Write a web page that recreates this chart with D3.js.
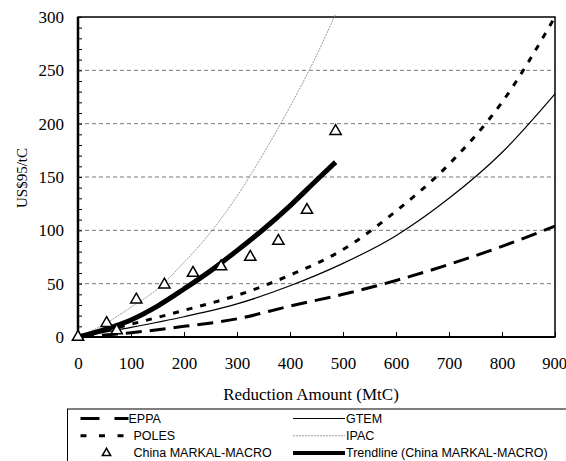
<!DOCTYPE html>
<html>
<head>
<meta charset="utf-8">
<script src="https://cdn.jsdelivr.net/npm/d3@7"></script>
<style>
  body { margin: 0; background: #fff; }
  .tick text { font-family: "Liberation Serif", "Times New Roman", serif; }
</style>
</head>
<body>
<div id="chart"></div>
<script>
// data (x = reduction MtC, y = US$95/tC)
var reductionX = [0, 100, 200, 300, 400, 500, 600, 700, 800, 900];
var eppaY  = [0, 4, 10, 17, 29, 40, 53, 68, 85, 104];
var gtemY  = [0, 9, 19, 31, 48, 69, 95, 130, 173, 228];
var polesY = [0, 12, 25, 39, 58, 82, 118, 162, 220, 300];

var ipacX = [0, 50, 100, 150, 200, 250, 300, 350, 400, 450, 486];
var ipacY = [0, 12, 28, 45, 70, 98, 132, 172, 216, 264, 303];

var trendX = [0, 50, 100, 150, 200, 250, 300, 350, 400, 450, 486];
var trendY = [0, 7, 16, 29, 45, 62, 81, 101, 123, 147, 164];

var markalX = [0, 54, 73, 110, 163, 217, 270, 325, 378, 432, 486];
var markalY = [0, 13, 6, 35, 49, 60, 66, 75, 90, 119, 193];

var xTicks = [0, 100, 200, 300, 400, 500, 600, 700, 800, 900];
var yTicks = [0, 50, 100, 150, 200, 250, 300];

var legendNames = ["EPPA", "GTEM", "POLES", "IPAC", "China MARKAL-MACRO", "Trendline (China MARKAL-MACRO)"];

// set svg area and margins
var svgWidth = 566;
var svgHeight = 461;

var margin = {
  top: 17,
  right: 11,
  bottom: 124,
  left: 78
};

var width = svgWidth - margin.left - margin.right;
var height = svgHeight - margin.top - margin.bottom;

var svg = d3.select("#chart")
  .append("svg")
  .attr("width", svgWidth)
  .attr("height", svgHeight);

var chartGroup = svg.append("g")
  .attr("transform", `translate(${margin.left}, ${margin.top})`);

//scales
var xLinearScale = d3.scaleLinear()
  .domain([0, 900])
  .range([0, width]);

var yLinearScale = d3.scaleLinear()
  .domain([0, 300])
  .range([height, 0]);

//grid lines
chartGroup.selectAll(".grid")
  .data(yTicks.filter(d => d > 0 && d < 300))
  .enter()
  .append("line")
  .attr("x1", 0)
  .attr("x2", width)
  .attr("y1", d => yLinearScale(d))
  .attr("y2", d => yLinearScale(d))
  .attr("stroke", "#777")
  .attr("stroke-width", 1)
  .attr("stroke-dasharray", "4,3");

//axes
var bottomAxis = d3.axisBottom(xLinearScale)
  .tickValues(xTicks)
  .tickSizeInner(-5)
  .tickSizeOuter(0)
  .tickPadding(20);

var leftAxis = d3.axisLeft(yLinearScale)
  .tickValues(d3.range(0, 301, 10))
  .tickSizeInner(-4)
  .tickSizeOuter(0)
  .tickPadding(14)
  .tickFormat(d => yTicks.indexOf(d) >= 0 ? d : "");

var xAxisG = chartGroup.append("g")
  .attr("transform", `translate(0, ${height})`)
  .call(bottomAxis);

var yAxisG = chartGroup.append("g")
  .call(leftAxis);

[xAxisG, yAxisG].forEach(function(g) {
  g.select(".domain").remove();
  g.selectAll(".tick line").attr("stroke", "#000").attr("stroke-width", 1);
  g.selectAll(".tick text")
    .style("font-size", "17px")
    .attr("fill", "#000");
});

// keep the last x label inside the window
xAxisG.selectAll(".tick text")
  .filter(d => d === 900)
  .attr("dx", -1)
  .style("font-size", "16.5px");

//plot frame
chartGroup.append("rect")
  .attr("x", 0)
  .attr("y", 0)
  .attr("width", width)
  .attr("height", height)
  .attr("fill", "none")
  .attr("stroke", "#000")
  .attr("stroke-width", 1.5);

chartGroup.append("line")
  .attr("x1", 0).attr("x2", 0)
  .attr("y1", 0).attr("y2", height)
  .attr("stroke", "#000")
  .attr("stroke-width", 2.5);

chartGroup.append("line")
  .attr("x1", 0).attr("x2", width)
  .attr("y1", height).attr("y2", height)
  .attr("stroke", "#000")
  .attr("stroke-width", 2);

//series lines
var series = [
  { name: "EPPA", xs: reductionX, ys: eppaY, width: 3, dash: "16,8", color: "#000" },
  { name: "GTEM", xs: reductionX, ys: gtemY, width: 1.2, dash: null, color: "#000" },
  { name: "POLES", xs: reductionX, ys: polesY, width: 3, dash: "6,8", color: "#000" },
  { name: "IPAC", xs: ipacX, ys: ipacY, width: 1, dash: "2,1", color: "#999" },
  { name: "Trendline (China MARKAL-MACRO)", xs: trendX, ys: trendY, width: 5, dash: null, color: "#000" }
];

var line = d3.line()
  .x(d => xLinearScale(d[0]))
  .y(d => yLinearScale(d[1]))
  .curve(d3.curveMonotoneX);

series.forEach(function(s) {
  chartGroup.append("path")
    .datum(s.xs.map((x, i) => [x, s.ys[i]]))
    .attr("d", line)
    .attr("fill", "none")
    .attr("stroke", s.color)
    .attr("stroke-width", s.width)
    .attr("stroke-dasharray", s.dash);
});

//triangles
var tri = d3.symbol().type(d3.symbolTriangle).size(55);

chartGroup.selectAll(".markal")
  .data(markalX.map((x, i) => [x, markalY[i]]))
  .enter()
  .append("path")
  .attr("d", tri)
  .attr("transform", d => `translate(${xLinearScale(d[0])}, ${yLinearScale(d[1])})`)
  .attr("fill", "#fff")
  .attr("stroke", "#000")
  .attr("stroke-width", 1.5);

//axis labels
svg.append("text")
  .attr("transform", "translate(27, 178) rotate(-90)")
  .style("text-anchor", "middle")
  .style("font-family", "Liberation Serif, Times New Roman, serif")
  .style("font-size", "15px")
  .text("US$95/tC");

svg.append("text")
  .attr("x", 311)
  .attr("y", 400)
  .style("text-anchor", "middle")
  .style("font-family", "Liberation Serif, Times New Roman, serif")
  .style("font-size", "17px")
  .text("Reduction Amount (MtC)");

//legend
var legendGroup = svg.append("g");

legendGroup.append("rect")
  .attr("x", 67.5)
  .attr("y", 409)
  .attr("width", 520)
  .attr("height", 70)
  .attr("fill", "#fff")
  .attr("stroke", "#000")
  .attr("stroke-width", 1);

var legendItems = legendGroup.selectAll(".legendItem")
  .data(legendNames)
  .enter()
  .append("g")
  .attr("transform", (d, i) => `translate(${i % 2 === 0 ? 80.5 : 293}, ${418.5 + Math.floor(i / 2) * 17.3})`);

legendItems.each(function(name) {
  var g = d3.select(this);
  if (name === "China MARKAL-MACRO") {
    g.append("path")
      .attr("d", d3.symbol().type(d3.symbolTriangle).size(30))
      .attr("transform", "translate(26, 0)")
      .attr("fill", "#fff")
      .attr("stroke", "#000")
      .attr("stroke-width", 1.5);
  } else {
    var s = series.find(d => d.name === name);
    var len = name === "POLES" ? 43 : (name === "EPPA" ? 48 : 52);
    g.append("line")
      .attr("x1", 0)
      .attr("x2", len)
      .attr("y1", 0)
      .attr("y2", 0)
      .attr("stroke", s.color)
      .attr("stroke-width", name === "IPAC" ? 1 : s.width - (name === "Trendline (China MARKAL-MACRO)" ? 1 : 0))
      .attr("stroke-dasharray", name === "EPPA" ? "19,15" : (name === "POLES" ? "6,12.5" : s.dash));
  }
  g.append("text")
    .attr("x", name === "EPPA" ? 48 : (name === "POLES" ? 53 : 53))
    .attr("y", 0)
    .attr("dy", "0.35em")
    .style("font-family", "Liberation Sans, Arial, sans-serif")
    .style("font-size", "12.5px")
    .text(name);
});
</script>
</body>
</html>
